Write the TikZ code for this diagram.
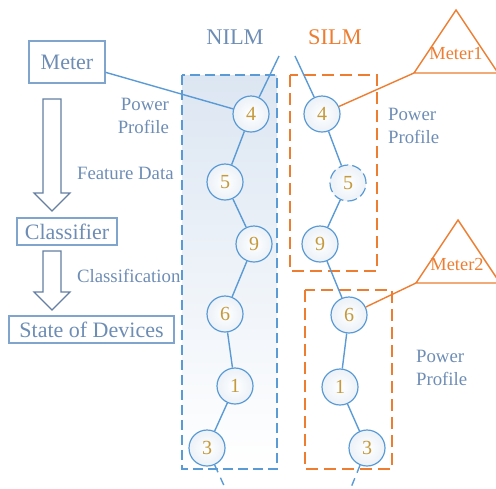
\documentclass[tikz,border=0pt]{standalone}
\usepackage{fontspec}
\setmainfont{Liberation Serif}
\usetikzlibrary{shapes.geometric}
\definecolor{lblue}{HTML}{5B9BD5}
\definecolor{tblue}{HTML}{6E8DB5}
\definecolor{bblue}{HTML}{7FA5CF}
\definecolor{gold}{HTML}{C49A3C}
\definecolor{orng}{HTML}{ED7D31}
\definecolor{pale}{HTML}{DCE6F2}
\begin{document}
\begin{tikzpicture}[x=0.5pt,y=-0.5pt,
  dev/.style={circle,draw=lblue,line width=0.6pt,minimum size=18pt,inner sep=0pt,
    inner color=white,outer color=pale!55,text=gold,font=\fontsize{10}{12}\selectfont},
  link/.style={draw=lblue,line width=0.7pt},
  lab/.style={text=tblue,font=\fontsize{9.4}{11.5}\selectfont},
  box/.style={draw=bblue,line width=0.7pt,fill=white,text=tblue,font=\fontsize{11}{13}\selectfont,inner sep=0pt},
  harrow/.style={draw=tblue!90!black,line width=0.6pt,fill=white},
  obox/.style={draw=orng,dashed,dash pattern=on 6pt off 3pt,line width=0.9pt},
  tri/.style={draw=orng,line width=0.7pt}
]
\useasboundingbox (0,0) rectangle (496,488);
% NILM panel
\shade[top color=pale,bottom color=white] (182,75) rectangle (277,469);
\draw[lblue,dashed,dash pattern=on 5pt off 2.5pt,line width=0.7pt] (182,75) rectangle (277,469);
% SILM boxes
\draw[obox] (290,75) rectangle (377,271);
\draw[obox] (305,290) rectangle (392,469);
% left flow
\node[box,minimum width=38pt,minimum height=21pt] (meter) at (67,62) {Meter};
\node[box,minimum width=50pt,minimum height=13.5pt] (clf) at (67,231.5) {Classifier};
\node[box,minimum width=82.5pt,minimum height=13.5pt] (state) at (91.5,329.5) {State of Devices};
\draw[harrow] (43,99) -- (61,99) -- (61,193) -- (70,193) -- (52,211) -- (34,193) -- (43,193) -- cycle;
\draw[harrow] (43,251) -- (61,251) -- (61,292) -- (70,292) -- (52,310) -- (34,292) -- (43,292) -- cycle;
\node[lab,align=right,anchor=east] (pp1) at (176,116) {Power\\Profile};
\node[lab,anchor=west] (fd) at (70,173) {Feature Data};
\node[lab,anchor=west] (cl) at (70,276) {Classification};
% titles
\node[text=tblue,font=\fontsize{11.2}{13}\selectfont] (nilm) at (235,37) {NILM};
\node[text=orng,font=\fontsize{11.2}{13}\selectfont] (silm) at (335,37) {SILM};
% NILM nodes
\coordinate (ntop) at (279,56);
\node[dev] (n4) at (251,114) {4};
\node[dev] (n5) at (225,182) {5};
\node[dev] (n9) at (254,244) {9};
\node[dev] (n6) at (225,314) {6};
\node[dev] (n1) at (235,386) {1};
\node[dev] (n3) at (207,448) {3};
\coordinate (nbot) at (226,490);
\draw[link] (ntop) -- (n4) -- (n5) -- (n9) -- (n6) -- (n1) -- (n3);
\draw[link,dashed,dash pattern=on 4pt off 3pt] (n3) -- (nbot);
\draw[link] (meter.-15) -- (n4);
% SILM nodes
\coordinate (stop) at (295,56);
\node[dev] (s4) at (322,114) {4};
\node[dev,dashed,dash pattern=on 5pt off 2pt] (s5) at (348,183) {5};
\node[dev] (s9) at (320,244) {9};
\node[dev] (s6) at (349,315) {6};
\node[dev] (s1) at (340,387) {1};
\node[dev] (s3) at (367,448) {3};
\coordinate (sbot) at (350,490);
\draw[link] (stop) -- (s4) -- (s5) -- (s9) -- (s6) -- (s1) -- (s3);
\draw[link,dashed,dash pattern=on 4pt off 3pt] (s3) -- (sbot);
% meters
\coordinate (m1a) at (456,10);
\coordinate (m1l) at (414,73);
\coordinate (m1r) at (498,73);
\draw[tri] (m1l) -- (m1a) -- (m1r) -- cycle;
\node[text=orng,font=\fontsize{9.2}{11}\selectfont] (m1) at (456,54) {Meter1};
\draw[draw=orng,line width=0.7pt] (m1l) -- (s4);
\coordinate (m2a) at (458,220);
\coordinate (m2l) at (416,283);
\coordinate (m2r) at (500,283);
\draw[tri] (m2l) -- (m2a) -- (m2r) -- cycle;
\node[text=orng,font=\fontsize{9.2}{11}\selectfont] (m2) at (457,264) {Meter2};
\draw[draw=orng,line width=0.7pt] (m2l) -- (s6);
% right labels
\node[lab,align=left,anchor=west] (pp2) at (381,126) {Power\\Profile};
\node[lab,align=left,anchor=west] (pp3) at (409,368) {Power\\Profile};
\end{tikzpicture}
\end{document}
